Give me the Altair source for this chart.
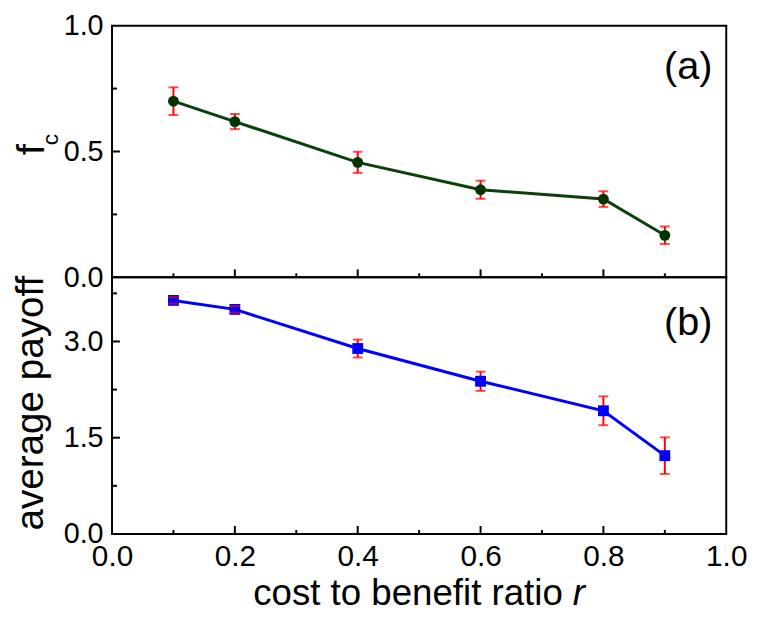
import altair as alt
import pandas as pd

# ---- data ----
r_vals = [0.1, 0.2, 0.4, 0.6, 0.8, 0.9]
fc_mean = [0.700, 0.619, 0.457, 0.348, 0.311, 0.167]
fc_err = [0.055, 0.030, 0.042, 0.036, 0.031, 0.035]
pay_mean = [3.64, 3.50, 2.89, 2.38, 1.92, 1.22]
pay_err = [0.05, 0.05, 0.14, 0.15, 0.225, 0.285]

x_labels = [0.0, 0.2, 0.4, 0.6, 0.8, 1.0]
x_major = [0.2, 0.4, 0.6, 0.8]
x_minor = [0.1, 0.3, 0.5, 0.7, 0.9]

fc_labels = [0.0, 0.5, 1.0]
fc_major = [0.5]
fc_minor = [0.25, 0.75]

pay_labels = [0.0, 1.5, 3.0]
pay_major = [1.5, 3.0]
pay_minor = [0.75, 2.25, 3.75]

FONT = "Liberation Sans"
W = 620


def panel(mean, err, ydom, ylabels, ymaj, ymin, color, linecolor, shape, psize,
          H, show_x, tag, tag_y, caps_on_top):
    df = pd.DataFrame({
        "r": r_vals,
        "m": mean,
        "lo": [m - e for m, e in zip(mean, err)],
        "hi": [m + e for m, e in zip(mean, err)],
    })
    xscale = alt.Scale(domain=[0, 1], nice=False, zero=False)
    yscale = alt.Scale(domain=ydom, nice=False, zero=False)
    if show_x:
        xaxis = alt.Axis(values=x_labels, format=".1f", ticks=False, domain=False,
                         grid=False, labelFontSize=30, labelFont=FONT, labelColor="black",
                         labelPadding=8, labelFlush=False, title=None)
    else:
        xaxis = None
    yaxis = alt.Axis(values=ylabels, format=".1f", ticks=False, domain=False,
                     grid=False, labelFontSize=29, labelFont=FONT, labelColor="black",
                     labelPadding=9, labelFlush=False, title=None)

    def X(f):
        return alt.X(f, type="quantitative", scale=xscale, axis=xaxis)

    def Y(f):
        return alt.Y(f, type="quantitative", scale=yscale, axis=yaxis)

    base = alt.Chart(df)
    line = base.mark_line(color=linecolor, strokeWidth=3).encode(x=X("r"), y=Y("m"))
    bar = base.mark_rule(color="#ff0000", strokeWidth=2).encode(x=X("r"), y=Y("lo"), y2="hi")
    cap_lo = base.mark_tick(color="#ff0000", orient="horizontal", size=10, thickness=2).encode(x=X("r"), y=Y("lo"))
    cap_hi = base.mark_tick(color="#ff0000", orient="horizontal", size=10, thickness=2).encode(x=X("r"), y=Y("hi"))
    pts = base.mark_point(filled=True, shape=shape, size=psize, color=color, opacity=1).encode(x=X("r"), y=Y("m"))

    xt_maj = alt.Chart(pd.DataFrame({"v": x_major})).mark_rule(color="black", strokeWidth=2).encode(
        x=X("v"), y=alt.value(H), y2=alt.value(H - 8))
    xt_min = alt.Chart(pd.DataFrame({"v": x_minor})).mark_rule(color="black", strokeWidth=2).encode(
        x=X("v"), y=alt.value(H), y2=alt.value(H - 4))
    yt_maj = alt.Chart(pd.DataFrame({"v": ymaj})).mark_rule(color="black", strokeWidth=2).encode(
        y=Y("v"), x=alt.value(0), x2=alt.value(8))
    yt_min = alt.Chart(pd.DataFrame({"v": ymin})).mark_rule(color="black", strokeWidth=2).encode(
        y=Y("v"), x=alt.value(0), x2=alt.value(5))

    label = alt.Chart(pd.DataFrame({"t": [tag]})).mark_text(
        font=FONT, fontSize=40, align="right", baseline="middle", color="black"
    ).encode(text="t:N", x=alt.value(W - 14), y=alt.value(tag_y))

    if caps_on_top:
        layers = [line, bar, pts, cap_lo, cap_hi]
    else:
        layers = [line, bar, cap_lo, cap_hi, pts]
    layers += [xt_maj, xt_min, yt_maj, yt_min, label]
    return layers


H1 = 254
H2 = 259

top_layers = panel(fc_mean, fc_err, [0, 1], fc_labels, fc_major, fc_minor,
                   "#013301", "#0a400a", "circle", 120, H1, False, "(a)", 42, False)
f_title = alt.Chart(pd.DataFrame({"t": ["f"]})).mark_text(
    font=FONT, fontSize=40, angle=270, align="center", baseline="middle", color="black"
).encode(text="t:N", x=alt.value(-81), y=alt.value(125))
c_sub = alt.Chart(pd.DataFrame({"t": ["c"]})).mark_text(
    font=FONT, fontSize=23, angle=270, align="center", baseline="middle", color="black"
).encode(text="t:N", x=alt.value(-62), y=alt.value(115))
top = alt.layer(*top_layers, f_title, c_sub).properties(width=W, height=H1)

bot_layers = panel(pay_mean, pay_err, [0, 4], pay_labels, pay_major, pay_minor,
                   "#0000ff", "#0000ff", "square", 120, H2, True, "(b)", 46, True)
ytitle = alt.Chart(pd.DataFrame({"t": ["average payoff"]})).mark_text(
    font=FONT, fontSize=39, angle=270, align="center", baseline="middle", color="black"
).encode(text="t:N", x=alt.value(-82), y=alt.value(127))
xtitle = alt.Chart(pd.DataFrame({"t": ["cost to benefit ratio"]})).mark_text(
    font=FONT, fontSize=37, align="right", baseline="alphabetic", color="black"
).encode(text="t:N", x=alt.value(455), y=alt.value(H2 + 72))
xtitle_r = alt.Chart(pd.DataFrame({"t": ["r"]})).mark_text(
    font=FONT, fontSize=37, fontStyle="italic", align="left", baseline="alphabetic", color="black"
).encode(text="t:N", x=alt.value(465), y=alt.value(H2 + 72))
bottom = alt.layer(*bot_layers, ytitle, xtitle, xtitle_r).properties(width=W, height=H2)

chart = alt.vconcat(top, bottom, spacing=0, bounds="flush").properties(
    padding={"left": 2, "top": 0, "right": 5, "bottom": 0},
    background="white",
).configure_view(stroke="black", strokeWidth=2)

chart.save("out.html", embed_options={"renderer": "svg", "actions": False})
